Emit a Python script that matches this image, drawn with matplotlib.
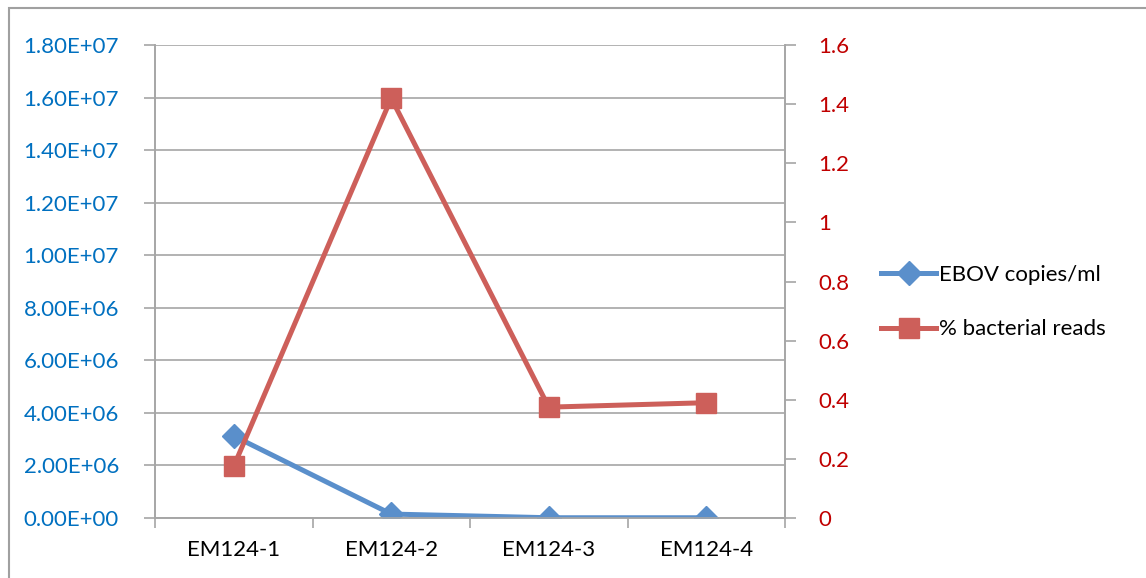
import matplotlib

matplotlib.use("Agg")
import matplotlib.pyplot as plt
from matplotlib.patches import Rectangle

samples = ["EM124-1", "EM124-2", "EM124-3", "EM124-4"]
ebov_copies = [3.12e6, 1.5e5, 1.0e4, 1.0e4]
bacterial_pct = [0.175, 1.42, 0.375, 0.39]

left_ticks = [0, 2e6, 4e6, 6e6, 8e6, 1e7, 1.2e7, 1.4e7, 1.6e7, 1.8e7]
right_ticks = [0, 0.2, 0.4, 0.6, 0.8, 1, 1.2, 1.4, 1.6]
right_labels = ["0", "0.2", "0.4", "0.6", "0.8", "1", "1.2", "1.4", "1.6"]

BLUE = "#5A8FCB"
RED = "#CD5F5A"
GRID = "#A6A6A6"

plt.rcParams["font.family"] = ["Lato", "DejaVu Sans"]

fig = plt.figure(figsize=(11.46, 5.78), dpi=100)
W, H = 1146, 578
ax = fig.add_axes([155 / W, 1 - 518 / H, (785 - 155) / W, (518 - 45) / H])
ax2 = ax.twinx()

# outer chart border
fig.patches.append(Rectangle((9 / W, -0.05), 1.2, 1 - 8 / H + 0.05,
                             transform=fig.transFigure, fill=False,
                             edgecolor="#A0A0A0", linewidth=1.5))

x = list(range(len(samples)))
l1, = ax.plot(x, ebov_copies, color=BLUE, linewidth=3.6, marker="D",
              markersize=12, label="EBOV copies/ml", zorder=3)
l2, = ax2.plot(x, bacterial_pct, color=RED, linewidth=3.6, marker="s",
               markersize=14, label="% bacterial reads", zorder=3)

ax.set_xlim(-0.5, len(samples) - 0.5)
ax.set_ylim(0, 1.8e7)
ax2.set_ylim(0, 1.6)

ax.set_yticks(left_ticks)
ax.set_yticklabels([f"{v:.2E}" for v in left_ticks])
ax2.set_yticks(right_ticks)
ax2.set_yticklabels(right_labels)

ax.set_xticks(x)
ax.set_xticklabels(samples)
ax.set_xticks([i - 0.5 for i in range(len(samples) + 1)], minor=True)
ax.tick_params(axis="x", which="major", length=0, pad=16, labelsize=16)
ax.tick_params(axis="x", which="minor", length=7, color=GRID, width=1.2)

ax.tick_params(axis="y", length=8, color=GRID, width=1.2, labelsize=16,
               labelcolor="#0070C0", pad=18)
ax2.tick_params(axis="y", length=8, color=GRID, width=1.2, labelsize=16,
                labelcolor="#C00000", pad=16)

ax.yaxis.grid(True, color=GRID, linewidth=1.2)
ax.set_axisbelow(True)

for a in (ax, ax2):
    a.spines["top"].set_visible(False)
    for s in ("left", "right", "bottom"):
        a.spines[s].set_color(GRID)
        a.spines[s].set_linewidth(1.2)

fig.legend(handles=[l1, l2], loc="upper left",
           bbox_to_anchor=(872 / W, 1 - 256 / H), frameon=False,
           fontsize=16, handlelength=2.5, handletextpad=0.1,
           labelspacing=1.55, borderaxespad=0)

fig.savefig("out.png", dpi=100)
